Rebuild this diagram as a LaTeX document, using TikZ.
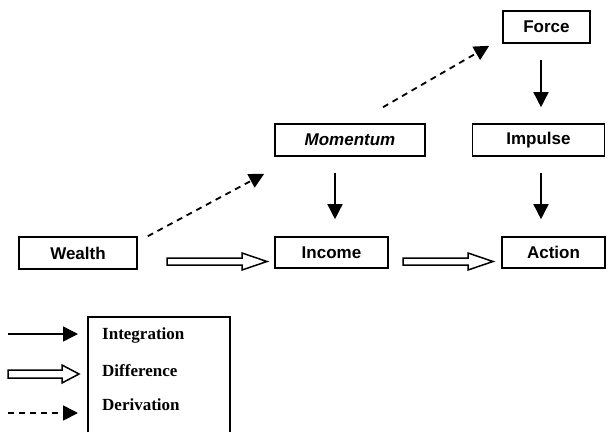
\documentclass[tikz,border=0pt]{standalone}
\usepackage{fontspec}
\setmainfont{Liberation Sans}
\newfontfamily\legendfont{Liberation Serif}
\usetikzlibrary{arrows.meta,calc}
\newcommand\hollowArrowDraw[5]{% start, tip, shaft half, head half, head length
  \draw[hollowline] ($(#1)+(0,-#3)$) -- ($(#2)+(-#5,-#3)$) -- ($(#2)+(-#5,-#4)$) -- (#2)
    -- ($(#2)+(-#5,#4)$) -- ($(#2)+(-#5,#3)$) -- ($(#1)+(0,#3)$) -- cycle;}
\begin{document}
\begin{tikzpicture}[x=1pt,y=-1pt,
  box/.style={draw,line width=1.6pt,inner sep=0pt,font=\fontsize{17}{20}\selectfont\bfseries},
  intarrow/.style={line width=1.5pt,-{Triangle[length=15pt,width=15pt]}},
  derarrow/.style={line width=1.8pt,dash pattern=on 6pt off 5pt,-{Triangle[length=15pt,width=15pt]}},
  hollowline/.style={line width=1.5pt,line join=miter,fill=white},
  legtext/.style={anchor=west,inner sep=0pt,font=\legendfont\fontsize{17}{20}\selectfont\bfseries}]
\useasboundingbox (0,0) rectangle (608,432);
% boxes
\node[box,minimum width=87pt,minimum height=32pt] (force) at (546.5,27) {Force};
\node[box,minimum width=150pt,minimum height=32pt] (momentum) at (350,140) {\itshape Momentum};
\node[box,minimum width=132pt,minimum height=32pt] (impulse) at (538.5,140) {Impulse};
\node[box,minimum width=118pt,minimum height=32pt] (wealth) at (78,253) {Wealth};
\node[box,minimum width=113pt,minimum height=31pt] (income) at (331.5,252.5) {Income};
\node[box,minimum width=103pt,minimum height=31pt] (action) at (553.5,252.5) {Action};
% integration arrows
\draw[intarrow] ([xshift=-5.5pt,yshift=-16pt]force.south) -- ([xshift=2.5pt,yshift=16pt]impulse.north);
\draw[intarrow] ([xshift=-15pt,yshift=-16pt]momentum.south) -- ([xshift=3.5pt,yshift=17pt]income.north);
\draw[intarrow] ([xshift=2.5pt,yshift=-16pt]impulse.south) -- ([xshift=-12.5pt,yshift=17pt]action.north);
% derivation arrows
\draw[derarrow] ([xshift=10pt]wealth.north east) -- ([xshift=-10pt,yshift=-17pt]momentum.south west);
\draw[derarrow] ([xshift=33pt,yshift=16pt]momentum.north) -- ([xshift=-13pt,yshift=-2pt]force.south west);
% difference arrows
\coordinate (d1s) at (167,261.5);
\coordinate (d1e) at (267,261.5);
\coordinate (d2s) at (403,261.5);
\coordinate (d2e) at (493,261.5);
\hollowArrowDraw{d1s}{d1e}{3.5}{8.5}{25}
\hollowArrowDraw{d2s}{d2e}{3.5}{8.5}{25}
% legend
\draw[line width=1.6pt] (88,432) coordinate (lbl) -- (88,317) coordinate (ltl) -- (230,317) coordinate (ltr) -- (230,432) coordinate (lbr);
\node[legtext] (tint) at (102,335) {Integration};
\node[legtext] (tdif) at (102,371) {Difference};
\node[legtext] (tder) at (102,405) {Derivation};
\coordinate (l1s) at (8,334);
\coordinate (l1e) at (78,334);
\coordinate (l2s) at (8,374);
\coordinate (l2e) at (79,374);
\coordinate (l3s) at (8,413);
\coordinate (l3e) at (78,413);
\draw[intarrow] (l1s) -- (l1e);
\hollowArrowDraw{l2s}{l2e}{4}{9}{17}
\draw[derarrow] (l3s) -- (l3e);
\end{tikzpicture}
\end{document}
